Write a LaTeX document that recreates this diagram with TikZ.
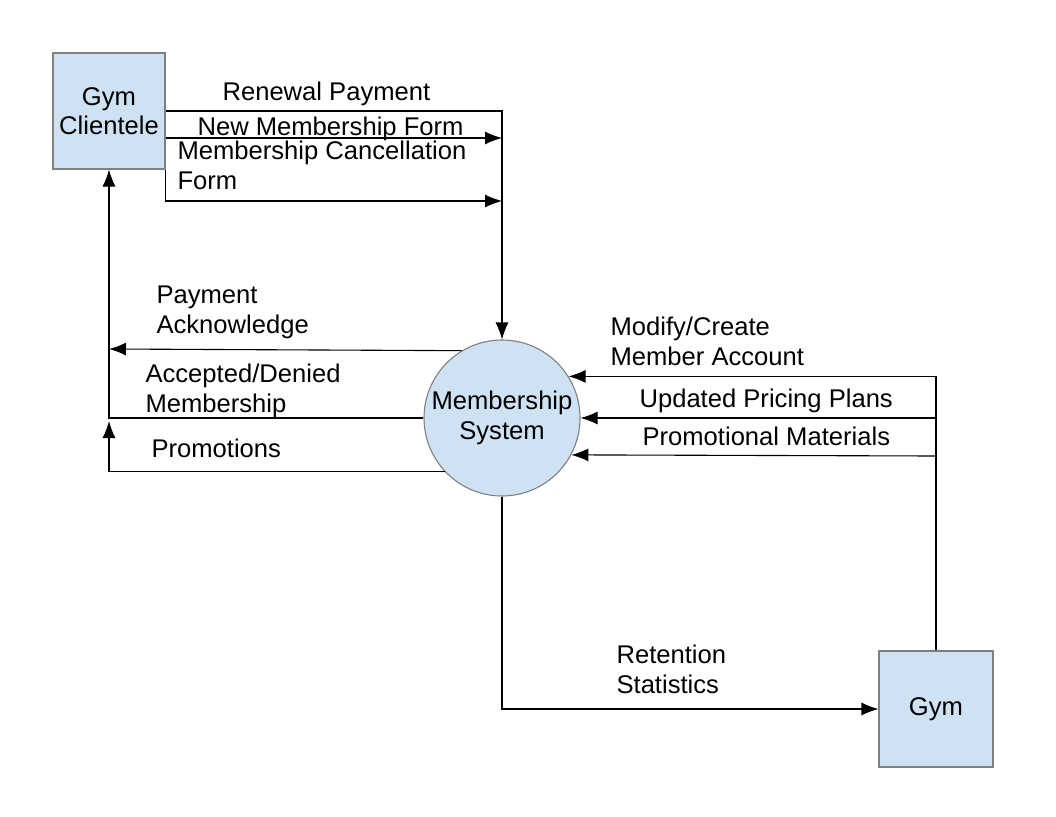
\documentclass[tikz,border=0pt]{standalone}
\usepackage{fontspec}
\setmainfont{Liberation Sans}
\usetikzlibrary{arrows.meta}
\definecolor{node_gray}{RGB}{128,128,128}
\definecolor{node_blue}{RGB}{207,226,243}
\begin{document}
\begin{tikzpicture}[x=1pt,y=-1pt,line width=1.1pt,>={Latex[length=17pt,width=13pt]}]
    \tikzstyle{ent}=[draw=node_gray, fill=node_blue, rectangle, align=center, font=\fontsize{25.6}{29.5}\selectfont, inner sep=0pt]
    \tikzstyle{proc}=[draw=node_gray, fill=node_blue, circle, minimum size=156pt, align=center, font=\fontsize{25.6}{29.5}\selectfont, inner sep=0pt]
    \tikzstyle{lbl}=[anchor=base west, align=left, inner sep=0pt, font=\fontsize{25.6}{29.5}\selectfont]
    \tikzstyle{flow}=[->, draw=black]
    \useasboundingbox (0,0) rectangle (1056,816);

    \node[ent, minimum width=112pt, minimum height=116pt] (cl) at (109,111) {Gym\\Clientele};
    \node[proc] (ms) at (502,418) {Membership\\System};
    \node[ent, minimum width=114pt, minimum height=116pt] (gym) at (936,709) {Gym};

    % clientele -> system
    \draw[flow] (cl.east) -| (ms.north);
    \draw[flow] (cl.east |- 0,138) -- (ms.north |- 0,138);
    \draw[flow] (cl.south east) |- (ms.north |- 0,201);
    % system -> clientele
    \draw[flow] (ms.121) -- (cl.south |- 0,349);
    \draw[flow] (ms.west) -| (cl.south);
    \draw[flow] (ms.223) -| (cl.south |- 0,421);
    % gym -> system
    \draw[flow] (gym.north) |- (ms.32);
    \draw[flow] (gym.north |- ms.east) -- (ms.east);
    \draw[flow] (gym.north |- 0,456) -- (ms.-28);
    % system -> gym
    \draw[flow] (ms.south) |- (gym.west);

    \node[lbl] (l1) at (222,100) {Renewal Payment};
    \node[lbl] (l2) at (197,135) {New Membership Form};
    \node[lbl] (l3) at (177,189) {Membership Cancellation\\Form};
    \node[lbl] (l4) at (156,333) {Payment\\Acknowledge};
    \node[lbl] (l5) at (145,412) {Accepted/Denied\\Membership};
    \node[lbl] (l6) at (151,457) {Promotions};
    \node[lbl] (l7) at (610,365) {Modify/Create\\Member Account};
    \node[lbl] (l8) at (639,407) {Updated Pricing Plans};
    \node[lbl] (l9) at (642,445) {Promotional Materials};
    \node[lbl] (l10) at (616,693) {Retention\\Statistics};
\end{tikzpicture}
\end{document}
